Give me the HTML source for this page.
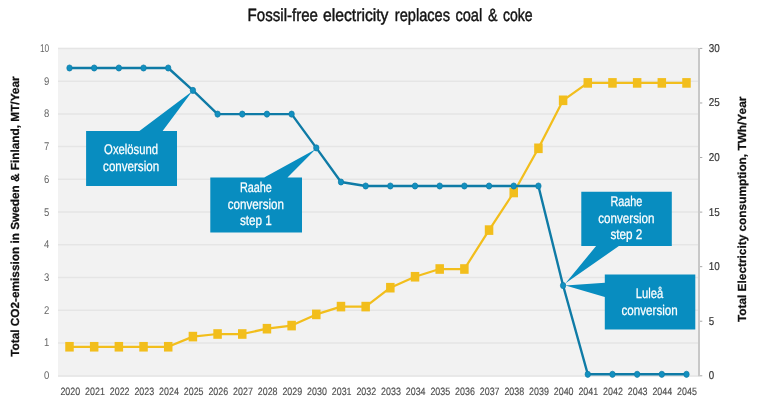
<!DOCTYPE html>
<html lang="en"><head><meta charset="utf-8"><title>Fossil-free electricity replaces coal &amp; coke</title>
<style>html,body{margin:0;padding:0;background:#fff;}body{width:770px;height:400px;overflow:hidden;}svg{display:block;}text{font-family:"Liberation Sans",sans-serif;text-rendering:geometricPrecision;}</style></head><body>
<svg width="770" height="400" viewBox="0 0 770 400">
<rect width="770" height="400" fill="#ffffff"/>
<rect x="58.0" y="47.8" width="640.0" height="328.80000000000007" fill="#f2f2f2"/>
<line x1="58.0" x2="698.0" y1="376.00" y2="376.00" stroke="#e5e5e5" stroke-width="1.5"/>
<line x1="58.0" x2="698.0" y1="343.06" y2="343.06" stroke="#e5e5e5" stroke-width="1.5"/>
<line x1="58.0" x2="698.0" y1="310.32" y2="310.32" stroke="#e5e5e5" stroke-width="1.5"/>
<line x1="58.0" x2="698.0" y1="277.58" y2="277.58" stroke="#e5e5e5" stroke-width="1.5"/>
<line x1="58.0" x2="698.0" y1="244.84" y2="244.84" stroke="#e5e5e5" stroke-width="1.5"/>
<line x1="58.0" x2="698.0" y1="212.10" y2="212.10" stroke="#e5e5e5" stroke-width="1.5"/>
<line x1="58.0" x2="698.0" y1="179.36" y2="179.36" stroke="#e5e5e5" stroke-width="1.5"/>
<line x1="58.0" x2="698.0" y1="146.62" y2="146.62" stroke="#e5e5e5" stroke-width="1.5"/>
<line x1="58.0" x2="698.0" y1="113.88" y2="113.88" stroke="#e5e5e5" stroke-width="1.5"/>
<line x1="58.0" x2="698.0" y1="81.14" y2="81.14" stroke="#e5e5e5" stroke-width="1.5"/>
<line x1="58.0" x2="698.0" y1="48.40" y2="48.40" stroke="#e5e5e5" stroke-width="1.5"/>
<line x1="699.0" x2="699.0" y1="47.9" y2="376.5" stroke="#c8c8c8" stroke-width="2"/>
<line x1="700.0" x2="702.3" y1="375.80" y2="375.80" stroke="#a8a8a8" stroke-width="1"/>
<line x1="700.0" x2="702.3" y1="321.23" y2="321.23" stroke="#a8a8a8" stroke-width="1"/>
<line x1="700.0" x2="702.3" y1="266.67" y2="266.67" stroke="#a8a8a8" stroke-width="1"/>
<line x1="700.0" x2="702.3" y1="212.10" y2="212.10" stroke="#a8a8a8" stroke-width="1"/>
<line x1="700.0" x2="702.3" y1="157.53" y2="157.53" stroke="#a8a8a8" stroke-width="1"/>
<line x1="700.0" x2="702.3" y1="102.97" y2="102.97" stroke="#a8a8a8" stroke-width="1"/>
<line x1="700.0" x2="702.3" y1="48.40" y2="48.40" stroke="#a8a8a8" stroke-width="1"/>
<text x="49.2" y="379.20" font-size="11.2" fill="#666666" text-anchor="end" textLength="5.3" lengthAdjust="spacingAndGlyphs">0</text>
<text x="49.2" y="346.46" font-size="11.2" fill="#666666" text-anchor="end" textLength="5.3" lengthAdjust="spacingAndGlyphs">1</text>
<text x="49.2" y="313.72" font-size="11.2" fill="#666666" text-anchor="end" textLength="5.3" lengthAdjust="spacingAndGlyphs">2</text>
<text x="49.2" y="280.98" font-size="11.2" fill="#666666" text-anchor="end" textLength="5.3" lengthAdjust="spacingAndGlyphs">3</text>
<text x="49.2" y="248.24" font-size="11.2" fill="#666666" text-anchor="end" textLength="5.3" lengthAdjust="spacingAndGlyphs">4</text>
<text x="49.2" y="215.50" font-size="11.2" fill="#666666" text-anchor="end" textLength="5.3" lengthAdjust="spacingAndGlyphs">5</text>
<text x="49.2" y="182.76" font-size="11.2" fill="#666666" text-anchor="end" textLength="5.3" lengthAdjust="spacingAndGlyphs">6</text>
<text x="49.2" y="150.02" font-size="11.2" fill="#666666" text-anchor="end" textLength="5.3" lengthAdjust="spacingAndGlyphs">7</text>
<text x="49.2" y="117.28" font-size="11.2" fill="#666666" text-anchor="end" textLength="5.3" lengthAdjust="spacingAndGlyphs">8</text>
<text x="49.2" y="84.54" font-size="11.2" fill="#666666" text-anchor="end" textLength="5.3" lengthAdjust="spacingAndGlyphs">9</text>
<text x="49.2" y="51.80" font-size="11.2" fill="#666666" text-anchor="end" textLength="9.3" lengthAdjust="spacingAndGlyphs">10</text>
<text x="708.8" y="379.30" font-size="11.4" fill="#363636" stroke="#363636" stroke-width="0.2" textLength="5.4" lengthAdjust="spacingAndGlyphs">0</text>
<text x="708.8" y="324.73" font-size="11.4" fill="#363636" stroke="#363636" stroke-width="0.2" textLength="5.4" lengthAdjust="spacingAndGlyphs">5</text>
<text x="708.8" y="270.17" font-size="11.4" fill="#363636" stroke="#363636" stroke-width="0.2" textLength="11.0" lengthAdjust="spacingAndGlyphs">10</text>
<text x="708.8" y="215.60" font-size="11.4" fill="#363636" stroke="#363636" stroke-width="0.2" textLength="11.0" lengthAdjust="spacingAndGlyphs">15</text>
<text x="708.8" y="161.03" font-size="11.4" fill="#363636" stroke="#363636" stroke-width="0.2" textLength="11.0" lengthAdjust="spacingAndGlyphs">20</text>
<text x="708.8" y="106.47" font-size="11.4" fill="#363636" stroke="#363636" stroke-width="0.2" textLength="11.0" lengthAdjust="spacingAndGlyphs">25</text>
<text x="708.8" y="51.90" font-size="11.4" fill="#363636" stroke="#363636" stroke-width="0.2" textLength="11.0" lengthAdjust="spacingAndGlyphs">30</text>
<text x="70.30" y="394.9" font-size="10.6" fill="#4f4f4f" stroke="#4f4f4f" stroke-width="0.15" text-anchor="middle" textLength="19.8" lengthAdjust="spacingAndGlyphs">2020</text>
<text x="94.97" y="394.9" font-size="10.6" fill="#4f4f4f" stroke="#4f4f4f" stroke-width="0.15" text-anchor="middle" textLength="19.8" lengthAdjust="spacingAndGlyphs">2021</text>
<text x="119.64" y="394.9" font-size="10.6" fill="#4f4f4f" stroke="#4f4f4f" stroke-width="0.15" text-anchor="middle" textLength="19.8" lengthAdjust="spacingAndGlyphs">2022</text>
<text x="144.30" y="394.9" font-size="10.6" fill="#4f4f4f" stroke="#4f4f4f" stroke-width="0.15" text-anchor="middle" textLength="19.8" lengthAdjust="spacingAndGlyphs">2023</text>
<text x="168.97" y="394.9" font-size="10.6" fill="#4f4f4f" stroke="#4f4f4f" stroke-width="0.15" text-anchor="middle" textLength="19.8" lengthAdjust="spacingAndGlyphs">2024</text>
<text x="193.64" y="394.9" font-size="10.6" fill="#4f4f4f" stroke="#4f4f4f" stroke-width="0.15" text-anchor="middle" textLength="19.8" lengthAdjust="spacingAndGlyphs">2025</text>
<text x="218.31" y="394.9" font-size="10.6" fill="#4f4f4f" stroke="#4f4f4f" stroke-width="0.15" text-anchor="middle" textLength="19.8" lengthAdjust="spacingAndGlyphs">2026</text>
<text x="242.98" y="394.9" font-size="10.6" fill="#4f4f4f" stroke="#4f4f4f" stroke-width="0.15" text-anchor="middle" textLength="19.8" lengthAdjust="spacingAndGlyphs">2027</text>
<text x="267.64" y="394.9" font-size="10.6" fill="#4f4f4f" stroke="#4f4f4f" stroke-width="0.15" text-anchor="middle" textLength="19.8" lengthAdjust="spacingAndGlyphs">2028</text>
<text x="292.31" y="394.9" font-size="10.6" fill="#4f4f4f" stroke="#4f4f4f" stroke-width="0.15" text-anchor="middle" textLength="19.8" lengthAdjust="spacingAndGlyphs">2029</text>
<text x="316.98" y="394.9" font-size="10.6" fill="#4f4f4f" stroke="#4f4f4f" stroke-width="0.15" text-anchor="middle" textLength="19.8" lengthAdjust="spacingAndGlyphs">2030</text>
<text x="341.65" y="394.9" font-size="10.6" fill="#4f4f4f" stroke="#4f4f4f" stroke-width="0.15" text-anchor="middle" textLength="19.8" lengthAdjust="spacingAndGlyphs">2031</text>
<text x="366.32" y="394.9" font-size="10.6" fill="#4f4f4f" stroke="#4f4f4f" stroke-width="0.15" text-anchor="middle" textLength="19.8" lengthAdjust="spacingAndGlyphs">2032</text>
<text x="390.98" y="394.9" font-size="10.6" fill="#4f4f4f" stroke="#4f4f4f" stroke-width="0.15" text-anchor="middle" textLength="19.8" lengthAdjust="spacingAndGlyphs">2033</text>
<text x="415.65" y="394.9" font-size="10.6" fill="#4f4f4f" stroke="#4f4f4f" stroke-width="0.15" text-anchor="middle" textLength="19.8" lengthAdjust="spacingAndGlyphs">2034</text>
<text x="440.32" y="394.9" font-size="10.6" fill="#4f4f4f" stroke="#4f4f4f" stroke-width="0.15" text-anchor="middle" textLength="19.8" lengthAdjust="spacingAndGlyphs">2035</text>
<text x="464.99" y="394.9" font-size="10.6" fill="#4f4f4f" stroke="#4f4f4f" stroke-width="0.15" text-anchor="middle" textLength="19.8" lengthAdjust="spacingAndGlyphs">2036</text>
<text x="489.66" y="394.9" font-size="10.6" fill="#4f4f4f" stroke="#4f4f4f" stroke-width="0.15" text-anchor="middle" textLength="19.8" lengthAdjust="spacingAndGlyphs">2037</text>
<text x="514.32" y="394.9" font-size="10.6" fill="#4f4f4f" stroke="#4f4f4f" stroke-width="0.15" text-anchor="middle" textLength="19.8" lengthAdjust="spacingAndGlyphs">2038</text>
<text x="538.99" y="394.9" font-size="10.6" fill="#4f4f4f" stroke="#4f4f4f" stroke-width="0.15" text-anchor="middle" textLength="19.8" lengthAdjust="spacingAndGlyphs">2039</text>
<text x="563.66" y="394.9" font-size="10.6" fill="#4f4f4f" stroke="#4f4f4f" stroke-width="0.15" text-anchor="middle" textLength="19.8" lengthAdjust="spacingAndGlyphs">2040</text>
<text x="588.33" y="394.9" font-size="10.6" fill="#4f4f4f" stroke="#4f4f4f" stroke-width="0.15" text-anchor="middle" textLength="19.8" lengthAdjust="spacingAndGlyphs">2041</text>
<text x="613.00" y="394.9" font-size="10.6" fill="#4f4f4f" stroke="#4f4f4f" stroke-width="0.15" text-anchor="middle" textLength="19.8" lengthAdjust="spacingAndGlyphs">2042</text>
<text x="637.66" y="394.9" font-size="10.6" fill="#4f4f4f" stroke="#4f4f4f" stroke-width="0.15" text-anchor="middle" textLength="19.8" lengthAdjust="spacingAndGlyphs">2043</text>
<text x="662.33" y="394.9" font-size="10.6" fill="#4f4f4f" stroke="#4f4f4f" stroke-width="0.15" text-anchor="middle" textLength="19.8" lengthAdjust="spacingAndGlyphs">2044</text>
<text x="687.00" y="394.9" font-size="10.6" fill="#4f4f4f" stroke="#4f4f4f" stroke-width="0.15" text-anchor="middle" textLength="19.8" lengthAdjust="spacingAndGlyphs">2045</text>
<polyline points="69.50,346.75 94.18,346.75 118.86,346.75 143.54,346.75 168.22,346.75 192.90,336.60 217.58,334.00 242.26,334.00 266.94,328.70 291.62,325.60 316.30,314.40 340.98,306.60 365.66,306.60 390.34,287.70 415.02,276.75 439.70,269.00 464.38,269.00 489.06,230.10 513.74,192.50 538.42,148.30 563.10,100.30 587.78,82.90 612.46,82.90 637.14,82.90 661.82,82.90 686.50,82.90" fill="none" stroke="#f2be1c" stroke-width="2.25" stroke-linejoin="round"/>
<rect x="65.25" y="341.95" width="8.5" height="9.6" fill="#f2be1c"/>
<rect x="89.93" y="341.95" width="8.5" height="9.6" fill="#f2be1c"/>
<rect x="114.61" y="341.95" width="8.5" height="9.6" fill="#f2be1c"/>
<rect x="139.29" y="341.95" width="8.5" height="9.6" fill="#f2be1c"/>
<rect x="163.97" y="341.95" width="8.5" height="9.6" fill="#f2be1c"/>
<rect x="188.65" y="331.80" width="8.5" height="9.6" fill="#f2be1c"/>
<rect x="213.33" y="329.20" width="8.5" height="9.6" fill="#f2be1c"/>
<rect x="238.01" y="329.20" width="8.5" height="9.6" fill="#f2be1c"/>
<rect x="262.69" y="323.90" width="8.5" height="9.6" fill="#f2be1c"/>
<rect x="287.37" y="320.80" width="8.5" height="9.6" fill="#f2be1c"/>
<rect x="312.05" y="309.60" width="8.5" height="9.6" fill="#f2be1c"/>
<rect x="336.73" y="301.80" width="8.5" height="9.6" fill="#f2be1c"/>
<rect x="361.41" y="301.80" width="8.5" height="9.6" fill="#f2be1c"/>
<rect x="386.09" y="282.90" width="8.5" height="9.6" fill="#f2be1c"/>
<rect x="410.77" y="271.95" width="8.5" height="9.6" fill="#f2be1c"/>
<rect x="435.45" y="264.20" width="8.5" height="9.6" fill="#f2be1c"/>
<rect x="460.13" y="264.20" width="8.5" height="9.6" fill="#f2be1c"/>
<rect x="484.81" y="225.30" width="8.5" height="9.6" fill="#f2be1c"/>
<rect x="509.49" y="187.70" width="8.5" height="9.6" fill="#f2be1c"/>
<rect x="534.17" y="143.50" width="8.5" height="9.6" fill="#f2be1c"/>
<rect x="558.85" y="95.50" width="8.5" height="9.6" fill="#f2be1c"/>
<rect x="583.53" y="78.10" width="8.5" height="9.6" fill="#f2be1c"/>
<rect x="608.21" y="78.10" width="8.5" height="9.6" fill="#f2be1c"/>
<rect x="632.89" y="78.10" width="8.5" height="9.6" fill="#f2be1c"/>
<rect x="657.57" y="78.10" width="8.5" height="9.6" fill="#f2be1c"/>
<rect x="682.25" y="78.10" width="8.5" height="9.6" fill="#f2be1c"/>
<polyline points="69.50,68.00 94.18,68.00 118.86,68.00 143.54,68.00 168.22,68.00 192.90,90.40 217.58,114.10 242.26,114.10 266.94,114.10 291.62,114.10 316.30,147.90 340.98,182.00 365.66,186.00 390.34,186.00 415.02,186.00 439.70,186.00 464.38,186.00 489.06,186.00 513.74,186.00 538.42,186.00 563.10,285.50 587.78,374.30 612.46,374.30 637.14,374.30 661.82,374.30 686.50,374.30" fill="none" stroke="#0f7ba6" stroke-width="2.4" stroke-linejoin="round"/>
<ellipse cx="69.50" cy="68.00" rx="2.7" ry="3.1" fill="#1290c0" stroke="#0f7ba6" stroke-width="0.7"/>
<ellipse cx="94.18" cy="68.00" rx="2.7" ry="3.1" fill="#1290c0" stroke="#0f7ba6" stroke-width="0.7"/>
<ellipse cx="118.86" cy="68.00" rx="2.7" ry="3.1" fill="#1290c0" stroke="#0f7ba6" stroke-width="0.7"/>
<ellipse cx="143.54" cy="68.00" rx="2.7" ry="3.1" fill="#1290c0" stroke="#0f7ba6" stroke-width="0.7"/>
<ellipse cx="168.22" cy="68.00" rx="2.7" ry="3.1" fill="#1290c0" stroke="#0f7ba6" stroke-width="0.7"/>
<ellipse cx="192.90" cy="90.40" rx="2.7" ry="3.1" fill="#1290c0" stroke="#0f7ba6" stroke-width="0.7"/>
<ellipse cx="217.58" cy="114.10" rx="2.7" ry="3.1" fill="#1290c0" stroke="#0f7ba6" stroke-width="0.7"/>
<ellipse cx="242.26" cy="114.10" rx="2.7" ry="3.1" fill="#1290c0" stroke="#0f7ba6" stroke-width="0.7"/>
<ellipse cx="266.94" cy="114.10" rx="2.7" ry="3.1" fill="#1290c0" stroke="#0f7ba6" stroke-width="0.7"/>
<ellipse cx="291.62" cy="114.10" rx="2.7" ry="3.1" fill="#1290c0" stroke="#0f7ba6" stroke-width="0.7"/>
<ellipse cx="316.30" cy="147.90" rx="2.7" ry="3.1" fill="#1290c0" stroke="#0f7ba6" stroke-width="0.7"/>
<ellipse cx="340.98" cy="182.00" rx="2.7" ry="3.1" fill="#1290c0" stroke="#0f7ba6" stroke-width="0.7"/>
<ellipse cx="365.66" cy="186.00" rx="2.7" ry="3.1" fill="#1290c0" stroke="#0f7ba6" stroke-width="0.7"/>
<ellipse cx="390.34" cy="186.00" rx="2.7" ry="3.1" fill="#1290c0" stroke="#0f7ba6" stroke-width="0.7"/>
<ellipse cx="415.02" cy="186.00" rx="2.7" ry="3.1" fill="#1290c0" stroke="#0f7ba6" stroke-width="0.7"/>
<ellipse cx="439.70" cy="186.00" rx="2.7" ry="3.1" fill="#1290c0" stroke="#0f7ba6" stroke-width="0.7"/>
<ellipse cx="464.38" cy="186.00" rx="2.7" ry="3.1" fill="#1290c0" stroke="#0f7ba6" stroke-width="0.7"/>
<ellipse cx="489.06" cy="186.00" rx="2.7" ry="3.1" fill="#1290c0" stroke="#0f7ba6" stroke-width="0.7"/>
<ellipse cx="513.74" cy="186.00" rx="2.7" ry="3.1" fill="#1290c0" stroke="#0f7ba6" stroke-width="0.7"/>
<ellipse cx="538.42" cy="186.00" rx="2.7" ry="3.1" fill="#1290c0" stroke="#0f7ba6" stroke-width="0.7"/>
<ellipse cx="563.10" cy="285.50" rx="2.7" ry="3.1" fill="#1290c0" stroke="#0f7ba6" stroke-width="0.7"/>
<ellipse cx="587.78" cy="374.30" rx="2.7" ry="3.1" fill="#1290c0" stroke="#0f7ba6" stroke-width="0.7"/>
<ellipse cx="612.46" cy="374.30" rx="2.7" ry="3.1" fill="#1290c0" stroke="#0f7ba6" stroke-width="0.7"/>
<ellipse cx="637.14" cy="374.30" rx="2.7" ry="3.1" fill="#1290c0" stroke="#0f7ba6" stroke-width="0.7"/>
<ellipse cx="661.82" cy="374.30" rx="2.7" ry="3.1" fill="#1290c0" stroke="#0f7ba6" stroke-width="0.7"/>
<ellipse cx="686.50" cy="374.30" rx="2.7" ry="3.1" fill="#1290c0" stroke="#0f7ba6" stroke-width="0.7"/>
<polygon points="86.1,131.1 139.4,131.1 192.3,91.2 162.6,131.1 177,131.1 177,186.1 86.1,186.1" fill="#088dc0"/>
<text x="131.1" y="154.20" font-size="14" fill="#ffffff" stroke="#ffffff" stroke-width="0.25" text-anchor="middle" textLength="54" lengthAdjust="spacingAndGlyphs">Oxelösund</text>
<text x="131.1" y="170.90" font-size="14" fill="#ffffff" stroke="#ffffff" stroke-width="0.25" text-anchor="middle" textLength="56" lengthAdjust="spacingAndGlyphs">conversion</text>
<polygon points="210.3,177.4 264.2,177.4 315.6,149.2 287.5,177.4 302,177.4 302,232.4 210.3,232.4" fill="#088dc0"/>
<text x="255.9" y="192.40" font-size="14" fill="#ffffff" stroke="#ffffff" stroke-width="0.25" text-anchor="middle" textLength="32" lengthAdjust="spacingAndGlyphs">Raahe</text>
<text x="255.9" y="209.10" font-size="14" fill="#ffffff" stroke="#ffffff" stroke-width="0.25" text-anchor="middle" textLength="56.2" lengthAdjust="spacingAndGlyphs">conversion</text>
<text x="255.9" y="225.20" font-size="14" fill="#ffffff" stroke="#ffffff" stroke-width="0.25" text-anchor="middle" textLength="32" lengthAdjust="spacingAndGlyphs">step 1</text>
<polygon points="581.3,191.8 671.8,191.8 671.8,246 618.9,246 565.5,283.3 596.1,246 581.3,246" fill="#088dc0"/>
<text x="626.4" y="206.00" font-size="14" fill="#ffffff" stroke="#ffffff" stroke-width="0.25" text-anchor="middle" textLength="32" lengthAdjust="spacingAndGlyphs">Raahe</text>
<text x="626.4" y="222.70" font-size="14" fill="#ffffff" stroke="#ffffff" stroke-width="0.25" text-anchor="middle" textLength="56.2" lengthAdjust="spacingAndGlyphs">conversion</text>
<text x="626.4" y="238.80" font-size="14" fill="#ffffff" stroke="#ffffff" stroke-width="0.25" text-anchor="middle" textLength="32" lengthAdjust="spacingAndGlyphs">step 2</text>
<polygon points="604.8,274.4 695.3,274.4 695.3,329.6 604.8,329.6 604.8,297.1 565.5,285.6 604.8,282.8" fill="#088dc0"/>
<text x="649.6" y="298.00" font-size="14" fill="#ffffff" stroke="#ffffff" stroke-width="0.25" text-anchor="middle" textLength="27.5" lengthAdjust="spacingAndGlyphs">Luleå</text>
<text x="649.6" y="314.70" font-size="14" fill="#ffffff" stroke="#ffffff" stroke-width="0.25" text-anchor="middle" textLength="56.2" lengthAdjust="spacingAndGlyphs">conversion</text>
<text x="247.6" y="20.8" font-size="17.7" fill="#141414" stroke="#141414" stroke-width="0.45" textLength="70.4" lengthAdjust="spacingAndGlyphs">Fossil-free</text>
<text x="322.9" y="20.8" font-size="17.7" fill="#141414" stroke="#141414" stroke-width="0.45" textLength="65.6" lengthAdjust="spacingAndGlyphs">electricity</text>
<text x="394.8" y="20.8" font-size="17.7" fill="#141414" stroke="#141414" stroke-width="0.45" textLength="55.2" lengthAdjust="spacingAndGlyphs">replaces</text>
<text x="455.4" y="20.8" font-size="17.7" fill="#141414" stroke="#141414" stroke-width="0.45" textLength="26.8" lengthAdjust="spacingAndGlyphs">coal</text>
<text x="488.1" y="20.8" font-size="17.7" fill="#141414" stroke="#141414" stroke-width="0.45" textLength="9.5" lengthAdjust="spacingAndGlyphs">&amp;</text>
<text x="503.0" y="20.8" font-size="17.7" fill="#141414" stroke="#141414" stroke-width="0.45" textLength="29.7" lengthAdjust="spacingAndGlyphs">coke</text>
<text transform="translate(19.4,216.6) rotate(-90)" font-size="11.7" font-weight="bold" fill="#111" stroke="#111" stroke-width="0.25" text-anchor="middle" textLength="280.3" lengthAdjust="spacingAndGlyphs">Total CO2-emission in Sweden &amp; Finland, MT/Year</text>
<text transform="translate(745.7,209.35) rotate(-90)" font-size="11.7" font-weight="bold" fill="#111" stroke="#111" stroke-width="0.25" text-anchor="middle" textLength="225.5" lengthAdjust="spacingAndGlyphs">Total Electricity consumption, TWh/Year</text>
</svg></body></html>
